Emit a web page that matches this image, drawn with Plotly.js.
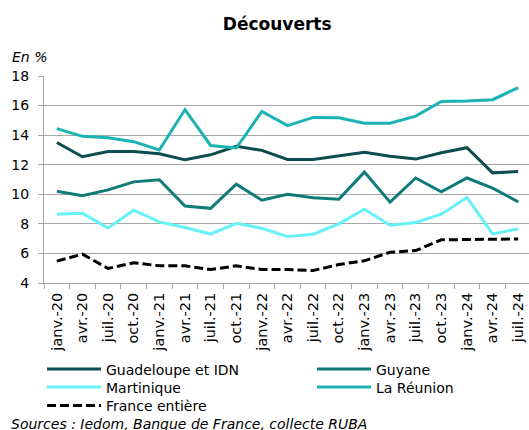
<!DOCTYPE html>
<html>
<head>
<meta charset="utf-8">
<script src="https://cdn.plot.ly/plotly-3.0.1.min.js"></script>
<style>
  html, body { margin: 0; padding: 0; background: #fff; }
  #chart { width: 529px; height: 430px; }
</style>
</head>
<body>
<div id="chart"></div>
<script>
var trimestres = ['janv.-20', 'avr.-20', 'juil.-20', 'oct.-20',
  'janv.-21', 'avr.-21', 'juil.-21', 'oct.-21',
  'janv.-22', 'avr.-22', 'juil.-22', 'oct.-22',
  'janv.-23', 'avr.-23', 'juil.-23', 'oct.-23',
  'janv.-24', 'avr.-24', 'juil.-24'];

var guadeloupe = [13.5, 12.54, 12.9, 12.9, 12.74, 12.33, 12.67, 13.24, 12.97, 12.36,
  12.36, 12.63, 12.85, 12.58, 12.38, 12.81, 13.15, 11.45, 11.54];
var guyane = [10.2, 9.91, 10.3, 10.84, 10.98, 9.21, 9.05, 10.68, 9.6, 10.0,
  9.76, 9.67, 11.5, 9.47, 11.1, 10.17, 11.1, 10.42, 9.49];
var martinique = [8.65, 8.71, 7.72, 8.92, 8.13, 7.75, 7.31, 8.04, 7.7, 7.14,
  7.3, 8.0, 8.99, 7.91, 8.09, 8.65, 9.78, 7.32, 7.66];
var reunion = [14.44, 13.92, 13.83, 13.56, 13.0, 15.73, 13.3, 13.13, 15.6, 14.64,
  15.2, 15.18, 14.8, 14.8, 15.29, 16.28, 16.31, 16.4, 17.21];
var france = [5.48, 5.95, 4.98, 5.37, 5.16, 5.16, 4.91, 5.16, 4.91, 4.91,
  4.84, 5.25, 5.5, 6.08, 6.19, 6.92, 6.94, 6.96, 6.98];

var police = 'Verdana, "DejaVu Sans", sans-serif';
var gris = '#a6a6a6';

function serie(nom, y, couleur, legende, dash) {
  return {
    x: trimestres,
    y: y,
    name: nom,
    legend: legende,
    type: 'scatter',
    mode: 'lines',
    line: { color: couleur, width: 3, dash: dash || 'solid' }
  };
}

var data = [
  serie('Guadeloupe et IDN', guadeloupe, '#0d4d4d', 'legend'),
  serie('Guyane', guyane, '#0f7a7a', 'legend2'),
  serie('Martinique', martinique, '#66f2f7', 'legend3'),
  serie('La Réunion', reunion, '#1cb3b3', 'legend4'),
  serie('France entière', france, '#000000', 'legend5', '9px,4px')
];

// one legend box per entry, laid out as in the original (2 columns)
function legende(xpx, ypx) {
  return {
    x: xpx / 529, xref: 'container', xanchor: 'left',
    y: 1 - ypx / 430, yref: 'container', yanchor: 'middle',
    itemwidth: 54,
    font: { family: police, size: 14 },
    bgcolor: 'rgba(0,0,0,0)'
  };
}

var layout = {
  width: 529,
  height: 430,
  margin: { l: 44, r: 0, t: 76, b: 147, autoexpand: false },
  paper_bgcolor: '#ffffff',
  plot_bgcolor: '#ffffff',
  font: { family: police, size: 14, color: '#000000' },
  title: {
    text: '<b>Découverts</b>',
    font: { family: police, size: 17, color: '#000000' },
    x: 0.524, xref: 'container', xanchor: 'center',
    y: 0.944, yref: 'container', yanchor: 'middle'
  },
  xaxis: {
    type: 'category',
    range: [-0.5, 18.42],
    showline: true,
    linecolor: gris,
    showgrid: false,
    ticks: 'outside',
    tickson: 'boundaries',
    ticklen: 5,
    tickcolor: gris,
    tickangle: -90,
    ticklabelstandoff: 3,
    tickfont: { family: police, size: 14.5 }
  },
  yaxis: {
    range: [4, 18],
    dtick: 2,
    showline: true,
    linecolor: gris,
    gridcolor: gris,
    ticks: 'outside',
    ticklen: 5,
    tickcolor: gris,
    ticklabelstandoff: 6,
    zeroline: false,
    tickfont: { family: police, size: 14 }
  },
  showlegend: true,
  legend: legende(42, 369.5),
  legend2: legende(312, 369.5),
  legend3: legende(42, 387.5),
  legend4: legende(312, 387.5),
  legend5: legende(42, 406),
  annotations: [
    {
      text: '<i>En %</i>',
      xref: 'paper', yref: 'paper',
      x: -0.07, y: 1.092,
      xanchor: 'left', yanchor: 'middle',
      showarrow: false,
      font: { family: police, size: 14 }
    },
    {
      text: '<i>Sources : Iedom, Banque de France, collecte RUBA</i>',
      xref: 'paper', yref: 'paper',
      x: -0.072, y: -0.68,
      xanchor: 'left', yanchor: 'middle',
      showarrow: false,
      font: { family: police, size: 14 }
    }
  ]
};

Plotly.newPlot('chart', data, layout, { displayModeBar: false, staticPlot: true });
</script>
</body>
</html>
